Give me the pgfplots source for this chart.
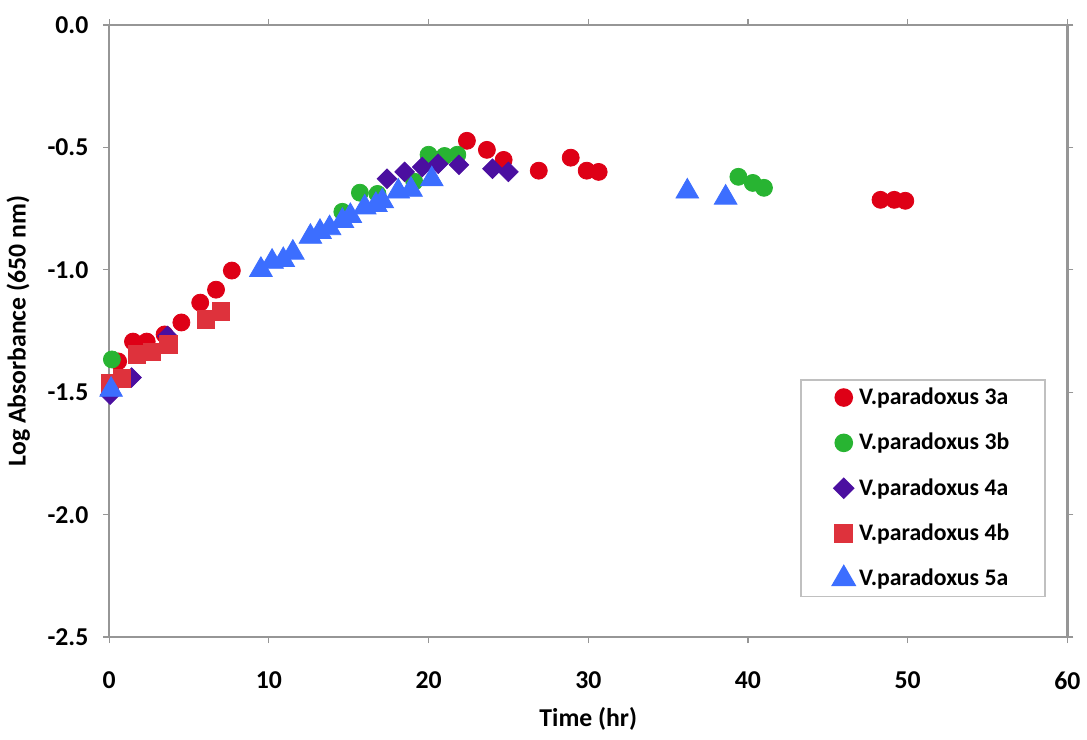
\documentclass[border=0pt]{standalone}
\usepackage{pgfplots}
\pgfplotsset{compat=1.18}
\usepackage{fontspec}
\setmainfont{Carlito}
\definecolor{cRed}{RGB}{222,0,22}
\definecolor{cGreen}{RGB}{40,180,50}
\definecolor{cPurple}{RGB}{75,15,160}
\definecolor{cSq}{RGB}{222,50,60}
\definecolor{cBlue}{RGB}{60,110,255}
\definecolor{axgray}{RGB}{150,150,150}
\begin{document}
\begin{tikzpicture}
\begin{axis}[
  width=484.5pt, height=309.5pt, scale only axis, clip=false,
  xmin=0, xmax=60, ymin=-2.5, ymax=0,
  xtick={0,10,...,60}, ytick={-2.5,-2,-1.5,-1,-0.5,0},
  /pgf/number format/assume math mode=true,
  yticklabel style={/pgf/number format/fixed, /pgf/number format/fixed zerofill, /pgf/number format/precision=1, xshift=-4pt},
  ticklabel style={font=\fontsize{13}{15}\selectfont\bfseries},
  xticklabel style={yshift=-11pt},
  tick align=outside, major tick length=3pt,
  tick style={axgray, line width=0.6pt},
  axis line style={axgray, line width=1.2pt},
  xlabel={\bfseries Time (hr)}, ylabel={\bfseries Log Absorbance (650 nm)},
  label style={font=\fontsize{13}{15}\selectfont\bfseries},
  xlabel style={yshift=-2pt},
  ylabel style={yshift=2pt},
  legend style={at={(0.721,0.4216)}, anchor=north west, draw=axgray!60, line width=0.8pt,
    font=\fontsize{12}{14}\selectfont\bfseries, row sep=9pt, inner xsep=16pt, inner ysep=2pt},
  legend cell align=left,
  legend image code/.code={\draw[mark repeat=2,mark phase=2] plot coordinates {(0cm,0cm) (0.15cm,0cm) (0.3cm,0cm)};},
]
\addplot[only marks, mark=*, mark size=4.3pt, mark options={fill=cRed, draw=cRed}] coordinates {
(0.56,-1.374) (1.49,-1.293) (2.35,-1.293) (3.47,-1.264) (4.52,-1.215) (5.7,-1.134) (6.69,-1.081) (7.68,-1.003)
(22.4,-0.473) (23.65,-0.51) (24.7,-0.551) (26.9,-0.595) (28.9,-0.542) (29.9,-0.595) (30.65,-0.6)
(48.3,-0.714) (49.16,-0.714) (49.85,-0.718)};
\addlegendentry{V.paradoxus 3a}
\addplot[only marks, mark=*, mark size=4.3pt, mark options={fill=cGreen, draw=cGreen}] coordinates {
(0.17,-1.366) (14.6,-0.763) (15.7,-0.685) (16.8,-0.69) (19.1,-0.64) (20.0,-0.53) (21.0,-0.535) (21.8,-0.53)
(39.4,-0.62) (40.3,-0.645) (41.0,-0.665)};
\addlegendentry{V.paradoxus 3b}
\addplot[only marks, mark=square*, mark size=3.5pt, mark options={fill=cPurple, draw=cPurple, rotate=45}] coordinates {
(0.06,-1.51) (1.4,-1.44) (3.65,-1.27) (17.4,-0.628) (18.5,-0.6) (19.6,-0.58) (20.6,-0.567) (21.9,-0.571)
(24.0,-0.587) (25.0,-0.6)};
\addlegendentry{V.paradoxus 4a}
\addplot[only marks, mark=square*, mark size=4.4pt, mark options={fill=cSq, draw=cSq}] coordinates {
(0.06,-1.464) (0.8,-1.444) (1.73,-1.346) (2.66,-1.334) (3.7,-1.305) (6.07,-1.203) (7.0,-1.17)};
\addlegendentry{V.paradoxus 4b}
\addplot[only marks, mark=triangle*, mark size=6.6pt, mark options={fill=cBlue, draw=cBlue}] coordinates {
(0.12,-1.49) (9.5,-1.0) (10.2,-0.967) (10.9,-0.96) (11.5,-0.93) (12.6,-0.865) (13.2,-0.845) (13.8,-0.83)
(14.6,-0.80) (15.1,-0.78) (16.0,-0.745) (16.7,-0.735) (17.1,-0.72) (18.1,-0.68) (18.9,-0.673) (20.2,-0.63)
(36.2,-0.68) (38.6,-0.705)};
\addlegendentry{V.paradoxus 5a}
\end{axis}
\path (current bounding box.north) ++(0,5pt) (current bounding box.south) ++(0,-1.5pt);
\end{tikzpicture}
\end{document}
